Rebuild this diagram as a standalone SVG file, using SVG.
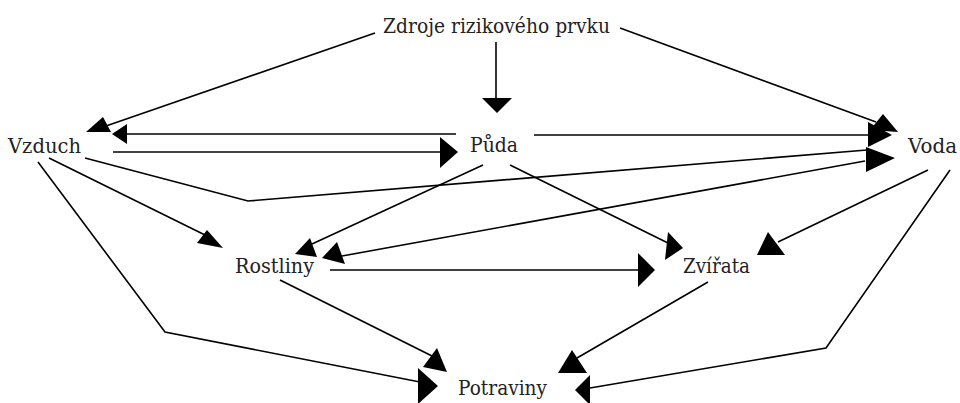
<svg xmlns="http://www.w3.org/2000/svg" width="960" height="403" viewBox="0 0 960 403">
<style>
.lbl{font-family:"DejaVu Serif",serif;font-size:20px;fill:#222;}
.ln{stroke:#000;stroke-width:1.6;fill:none;}
.ah{fill:#000;stroke:none;}
</style>
<rect width="960" height="403" fill="#fff"/>
<g id="connectors">
<line class="ln" x1="375" y1="33" x2="106" y2="126"/>
<polygon class="ah" points="86,132 103,117 111,132"/>
<line class="ln" x1="127" y1="134" x2="456" y2="134"/>
<polygon class="ah" points="112,134 127,124 127,144"/>
<line class="ln" x1="113" y1="152" x2="442" y2="152"/>
<polygon class="ah" points="458,152 440,137 440,168"/>
<line class="ln" x1="496" y1="42" x2="496" y2="98"/>
<polygon class="ah" points="482,98 512,98 497,113"/>
<line class="ln" x1="620" y1="28" x2="876" y2="122"/>
<polygon class="ah" points="883,114 898,132 870,130"/>
<line class="ln" x1="534" y1="135" x2="870" y2="135"/>
<polygon class="ah" points="868,122 868,147 892,135"/>
<polyline class="ln" points="85,158 248,201 867,150"/>
<polygon class="ah" points="866,147 866,172 895,158"/>
<line class="ln" x1="865" y1="161" x2="342" y2="256"/>
<polygon class="ah" points="322,258 337,242 345,264"/>
<line class="ln" x1="483" y1="165" x2="312" y2="244"/>
<polygon class="ah" points="295,254 310,238 317,257"/>
<line class="ln" x1="49" y1="158" x2="205" y2="235"/>
<polygon class="ah" points="207,230 197,243 223,248"/>
<line class="ln" x1="510" y1="165" x2="670" y2="244"/>
<polygon class="ah" points="668,232 665,260 683,248"/>
<line class="ln" x1="928" y1="170" x2="778" y2="242"/>
<polygon class="ah" points="768,232 757,255 785,255"/>
<line class="ln" x1="330" y1="270" x2="640" y2="270"/>
<polygon class="ah" points="638,253 638,287 655,270"/>
<line class="ln" x1="280" y1="280" x2="432" y2="356"/>
<polygon class="ah" points="437,348 423,367 447,372"/>
<polyline class="ln" points="38,162 165,332 420,382"/>
<polygon class="ah" points="418,368 418,404 438,386"/>
<line class="ln" x1="708" y1="282" x2="577" y2="358"/>
<polygon class="ah" points="572,350 558,373 587,373"/>
<polyline class="ln" points="950,170 826,348 590,388"/>
<polygon class="ah" points="575,390 590,375 590,405"/>
</g>
<g id="zdroje"><text class="lbl" x="383" y="33" textLength="227" lengthAdjust="spacingAndGlyphs">Zdroje rizikového prvku</text></g>
<g id="vzduch"><text class="lbl" x="8" y="153" textLength="73" lengthAdjust="spacingAndGlyphs">Vzduch</text></g>
<g id="puda"><text class="lbl" x="470" y="152" textLength="48" lengthAdjust="spacingAndGlyphs">Půda</text></g>
<g id="voda"><text class="lbl" x="908" y="153" textLength="49" lengthAdjust="spacingAndGlyphs">Voda</text></g>
<g id="rostliny"><text class="lbl" x="235" y="273" textLength="79" lengthAdjust="spacingAndGlyphs">Rostliny</text></g>
<g id="zvirata"><text class="lbl" x="683" y="273" textLength="67" lengthAdjust="spacingAndGlyphs">Zvířata</text></g>
<g id="potraviny"><text class="lbl" x="458" y="395" textLength="89" lengthAdjust="spacingAndGlyphs">Potraviny</text></g>
</svg>
